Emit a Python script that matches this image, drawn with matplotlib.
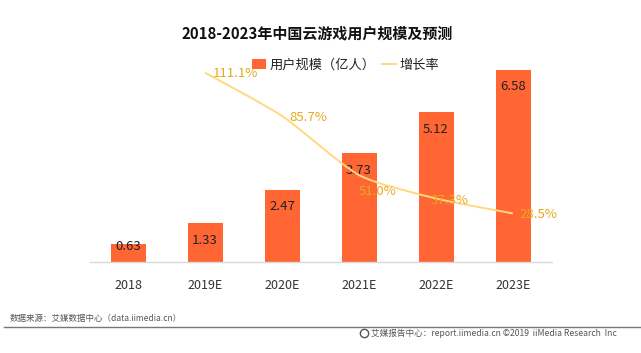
import matplotlib
matplotlib.use('Agg')
import matplotlib.pyplot as plt
from matplotlib.path import Path
from matplotlib.patches import PathPatch, Patch
from matplotlib.lines import Line2D

plt.rcParams['font.family'] = ['Noto Sans CJK SC', 'DejaVu Sans']

categories = ['2018', '2019E', '2020E', '2021E', '2022E', '2023E']
users = [0.63, 1.33, 2.47, 3.73, 5.12, 6.58]
growth = [111.1, 85.7, 51.0, 37.3, 28.5]
growth_labels = ['111.1%', '85.7%', '51.0%', '37.3%', '28.5%']
bar_label_offsets = [-3, -17, -17, -17, -17, -17]
growth_label_offsets = [(30, -1), (26, -2), (19, -16), (14, -2), (25, -1)]

W, H = 641, 353
fig = plt.figure(figsize=(W / 100, H / 100), dpi=100, facecolor='white')
ax = fig.add_axes([89.5 / W, 1 - 262 / H, 462 / W, 204.5 / H])
ax.set_xlim(-0.5, 5.5)
ax.set_ylim(0, 7)
ax.patch.set_alpha(0)
for s in ['top', 'left', 'right']:
    ax.spines[s].set_visible(False)
ax.spines['bottom'].set_color('#d9d9d9')
ax.spines['bottom'].set_linewidth(1)
ax.set_yticks([])
ax.set_xticks(range(6), categories)
ax.tick_params(axis='x', length=0, pad=12, labelsize=9, labelcolor='#333333')

x = list(range(6))
ax.bar(x, users, width=35 / 77, color='#FF6633', zorder=2)
for xi, v, off in zip(x, users, bar_label_offsets):
    ax.annotate(f'{v:.2f}', (xi, v), xytext=(0, off * 0.72), textcoords='offset points',
                ha='center', va='center', fontsize=9.5, color='#222222', zorder=3)

ax2 = ax.twinx()
ax2.set_ylim(0, 120)
ax2.set_yticks([])
ax2.patch.set_alpha(0)
for s in ax2.spines.values():
    s.set_visible(False)

# smooth line through the data points (Catmull-Rom as Bezier segments)
gx = x[1:]
pts = list(zip(gx, growth))
verts = [pts[0]]
codes = [Path.MOVETO]
for i in range(len(pts) - 1):
    p0 = pts[max(i - 1, 0)]
    p1 = pts[i]
    p2 = pts[i + 1]
    p3 = pts[min(i + 2, len(pts) - 1)]
    c1 = (p1[0] + (p2[0] - p0[0]) / 9, p1[1] + (p2[1] - p0[1]) / 9)
    c2 = (p2[0] - (p3[0] - p1[0]) / 9, p2[1] - (p3[1] - p1[1]) / 9)
    verts += [c1, c2, p2]
    codes += [Path.CURVE4] * 3
ax2.add_patch(PathPatch(Path(verts, codes), fill=False, edgecolor='#FFD97F', lw=1.4, zorder=4))
for xi, v, t, off in zip(gx, growth, growth_labels, growth_label_offsets):
    ax2.annotate(t, (xi, v), xytext=(off[0] * 0.72, off[1] * 0.72), textcoords='offset points',
                 ha='center', va='center', fontsize=9.5, color='#E8A820', zorder=5)

def T(px, py, s, **kw):
    fig.text(px / W, 1 - py / H, s, **kw)

T(317.5, 33, '2018-2023年中国云游戏用户规模及预测', ha='center', va='center',
  fontsize=10.8, fontweight='bold', color='#111111')

handles = [Patch(facecolor='#FF6633', label='用户规模（亿人）'),
           Line2D([], [], color='#FFD97F', lw=1.4, label='增长率')]
fig.legend(handles=handles, loc='center', bbox_to_anchor=(345.5 / W, 1 - 65 / H), ncol=2, frameon=False,
           fontsize=9.5, handlelength=1.1, handleheight=0.8, handletextpad=0.25, columnspacing=0.5,
           labelcolor='#222222', borderpad=0, borderaxespad=0)

T(10, 318, '数据来源：艾媒数据中心（data.iimedia.cn）', ha='left', va='center', fontsize=6.1, color='#555555')
fig.add_artist(Line2D([4 / W, 1], [1 - 327 / H] * 2, color='#777777', lw=1, transform=fig.transFigure))
fig.add_artist(Line2D([364 / W], [1 - 333 / H], marker='o', ms=6, mfc='none', mec='#555555', mew=1,
                      transform=fig.transFigure))
T(371, 333, '艾媒报告中心：report.iimedia.cn ©2019  iiMedia Research  Inc', ha='left', va='center',
  fontsize=6.2, color='#555555')

fig.savefig('out.png', dpi=100)
